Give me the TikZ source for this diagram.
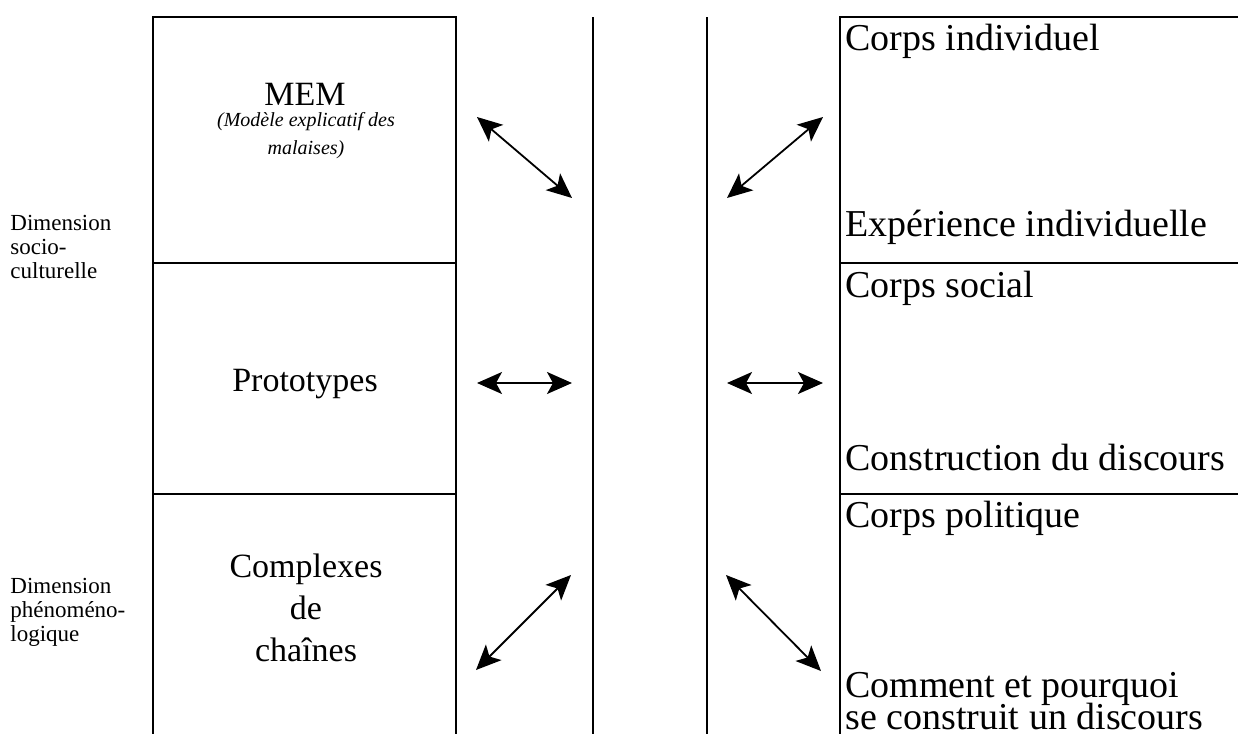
\documentclass[tikz,border=0pt]{standalone}
\usepackage{fontspec}
\setmainfont{Liberation Serif}
\usetikzlibrary{arrows.meta, positioning}

\newcommand\tightskip{\lineskiplimit=-20pt\relax}

\tikzset{
  frame/.style={line width=0.8pt},
  dblarrow/.style={line width=0.9pt, {Stealth[length=12.5pt,width=11pt,inset=3pt]}-{Stealth[length=12.5pt,width=11pt,inset=3pt]}},
  midtext/.style={font=\fontsize{17}{21}\selectfont, inner sep=0pt, align=center},
  smalltext/.style={font=\fontsize{10}{14}\selectfont\itshape, inner sep=0pt, align=center},
  righttext/.style={font=\fontsize{19}{16}\selectfont\tightskip, inner sep=0pt, anchor=west, align=left},
  sidetext/.style={font=\fontsize{11.5}{12}\selectfont, inner sep=0pt, anchor=north west, align=left},
}

\begin{document}
\begin{tikzpicture}[x=0.5pt, y=-0.5pt]
      \useasboundingbox (0,0) rectangle (1238,734);

      % left column
      \draw[frame] (153,734) -- (153,17) -- (456,17) -- (456,734);
      \draw[frame] (153,263) -- (456,263);
      \draw[frame] (153,494) -- (456,494);

      % middle lines
      \draw[frame] (593,17) -- (593,734);
      \draw[frame] (707,17) -- (707,734);

      % right column
      \draw[frame] (840,734) -- (840,17) -- (1238,17);
      \draw[frame] (840,263) -- (1238,263);
      \draw[frame] (840,494) -- (1238,494);

      \node[sidetext] at (10,215) (dimsoc) {Dimension\\socio-\\culturelle};
      \node[sidetext] at (10,578) (dimphen) {Dimension\\phénoméno-\\logique};

      \node[midtext] at (305,94) (mem) {MEM};
      \node[smalltext] at (306,136) (memlong) {(Modèle explicatif des\\malaises)};
      \node[midtext] at (305,384) (proto) {Prototypes};
      \node[midtext] at (306,608) (chains) {Complexes\\de\\chaînes};

      \node[righttext] at (845,41) (indiv) {Corps individuel};
      \node[righttext] at (845,227) (exper) {Expérience individuelle};
      \node[righttext] at (845,288) (social) {Corps social};
      \node[righttext] at (845,457) (constr) {Construction du discours};
      \node[righttext] at (845,518) (polit) {Corps politique};
      \node[righttext, anchor=south west] at (845,730) (comment) {Comment et pourquoi\\se construit un discours};

      \coordinate (m1a) at (477,117);
      \coordinate (m1b) at (572,198);
      \coordinate (m2a) at (823,117);
      \coordinate (m2b) at (727,198);
      \coordinate (p1a) at (477,383);
      \coordinate (p1b) at (572,383);
      \coordinate (p2a) at (727,383);
      \coordinate (p2b) at (823,383);
      \coordinate (c1a) at (476,670);
      \coordinate (c1b) at (571,575);
      \coordinate (c2a) at (726,575);
      \coordinate (c2b) at (821,671);

      \draw[dblarrow] (m1a) -- (m1b);
      \draw[dblarrow] (m2a) -- (m2b);
      \draw[dblarrow] (p1a) -- (p1b);
      \draw[dblarrow] (p2a) -- (p2b);
      \draw[dblarrow] (c1a) -- (c1b);
      \draw[dblarrow] (c2a) -- (c2b);
    \end{tikzpicture}
\end{document}
